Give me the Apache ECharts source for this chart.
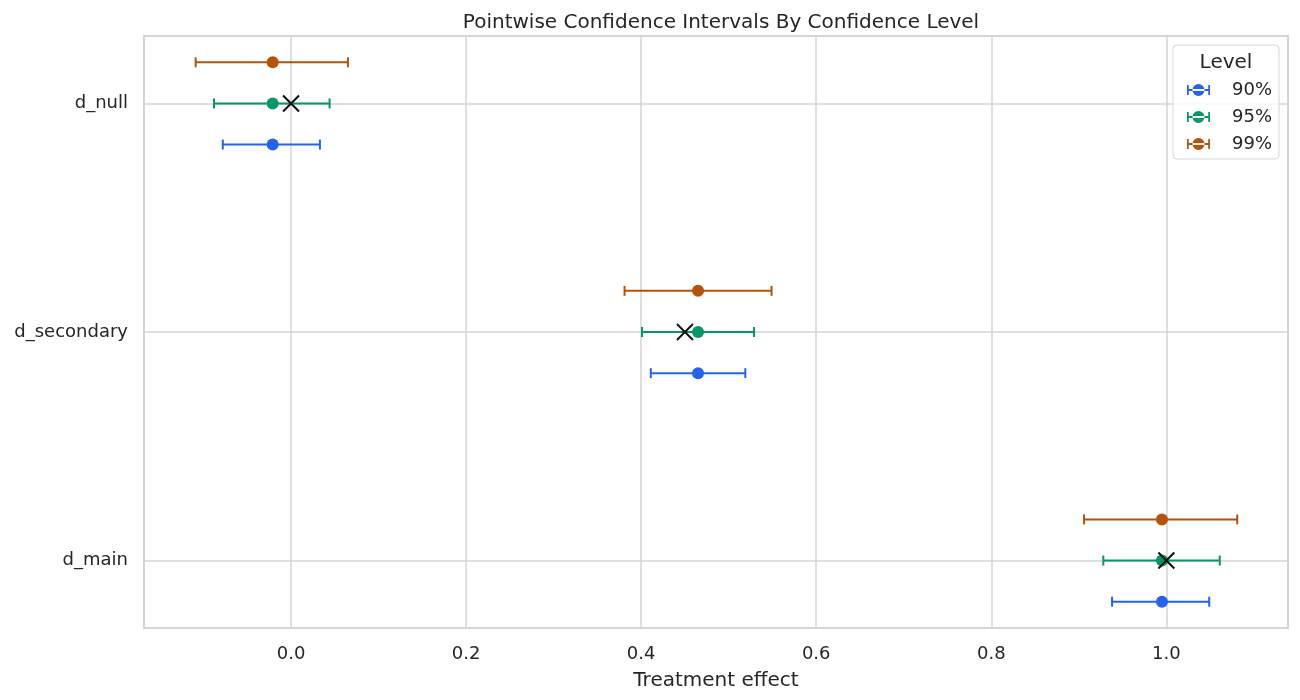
<!DOCTYPE html>
<html lang="en" style="height: 100%">
<head>
  <meta charset="utf-8">
</head>
<body style="height: 100%; margin: 0; background: #fff">
  <div id="container" style="width: 1300px; height: 700px"></div>
  <script type="text/javascript" src="https://fastly.jsdelivr.net/npm/echarts@6.0.0/dist/echarts.min.js"></script>
  <script type="text/javascript">
    // categories from bottom (0) to top (2)
    var categories = ['d_main', 'd_secondary', 'd_null'];
    var trueEffect = [1.0, 0.45, 0.0];
    var estimate = [0.995, 0.465, -0.021];
    var levels = ['90%', '95%', '99%'];
    var lower90 = [0.938, 0.411, -0.078];
    var upper90 = [1.049, 0.519, 0.033];
    var lower95 = [0.928, 0.401, -0.088];
    var upper95 = [1.061, 0.529, 0.044];
    var lower99 = [0.906, 0.381, -0.109];
    var upper99 = [1.081, 0.549, 0.065];

    var colors = ['#2563eb', '#059669', '#b45309'];
    var offsets = [-0.18, 0, 0.18];
    var lowers = [lower90, lower95, lower99];
    var uppers = [upper90, upper95, upper99];
    var font = 'DejaVu Sans';
    var textColor = '#262626';

    var dom = document.getElementById('container');
    var myChart = echarts.init(dom, null, { renderer: 'canvas' });

    function renderBar(params, api) {
      var y = api.value(2);
      var p0 = api.coord([api.value(0), y]);
      var p1 = api.coord([api.value(1), y]);
      var pm = api.coord([api.value(3), y]);
      var color = api.visual('color');
      var st = { stroke: color, lineWidth: 2 };
      return {
        type: 'group',
        children: [
          { type: 'line', shape: { x1: p0[0], y1: p0[1], x2: p1[0], y2: p1[1] }, style: st },
          { type: 'line', shape: { x1: p0[0], y1: p0[1] - 5, x2: p0[0], y2: p0[1] + 5 }, style: st },
          { type: 'line', shape: { x1: p1[0], y1: p1[1] - 5, x2: p1[0], y2: p1[1] + 5 }, style: st },
          { type: 'circle', shape: { cx: pm[0], cy: pm[1], r: 6 }, style: { fill: color } }
        ]
      };
    }

    function renderCross(params, api) {
      var p = api.coord([api.value(0), api.value(1)]);
      var st = { stroke: '#111111', lineWidth: 2 };
      var s = 8;
      return {
        type: 'group',
        children: [
          { type: 'line', shape: { x1: p[0] - s, y1: p[1] - s, x2: p[0] + s, y2: p[1] + s }, style: st },
          { type: 'line', shape: { x1: p[0] - s, y1: p[1] + s, x2: p[0] + s, y2: p[1] - s }, style: st }
        ]
      };
    }

    var series = levels.map(function (lvl, k) {
      return {
        name: lvl,
        type: 'custom',
        renderItem: renderBar,
        itemStyle: { color: colors[k] },
        encode: { x: [0, 1, 3], y: 2 },
        z: 2 + k,
        data: categories.map(function (c, i) {
          return [lowers[k][i], uppers[k][i], i + offsets[k], estimate[i]];
        })
      };
    });
    series.push({
      name: 'true',
      type: 'custom',
      renderItem: renderCross,
      encode: { x: 0, y: 1 },
      z: 10,
      data: categories.map(function (c, i) { return [trueEffect[i], i]; })
    });

    var legendIcon = 'path://M0,1.5 h1.6 v9 h-1.6 z M19.4,1.5 h1.6 v9 h-1.6 z M0,5.1 h21 v1.8 h-21 z M5,6 a5.5,5.5 0 1,0 11,0 a5.5,5.5 0 1,0 -11,0 z';

    var option = {
      animation: false,
      backgroundColor: '#ffffff',
      title: {
        text: 'Pointwise Confidence Intervals By Confidence Level',
        left: 716,
        top: 8,
        textAlign: 'center',
        textStyle: { fontFamily: font, fontSize: 20, fontWeight: 'normal', color: textColor }
      },
      graphic: [{
        type: 'text',
        x: 1226,
        y: 53,
        z: 100,
        style: { text: 'Level', fontFamily: font, fontSize: 20, fill: textColor, textAlign: 'center' }
      }],
      legend: {
        data: levels,
        orient: 'vertical',
        right: 21,
        top: 45,
        padding: [36, 7, 6, 14],
        itemGap: 9,
        itemWidth: 23,
        itemHeight: 14,
        icon: legendIcon,
        backgroundColor: 'rgba(255,255,255,0.85)',
        borderColor: '#d6d6d6',
        borderWidth: 1,
        borderRadius: 4,
        textStyle: { fontFamily: font, fontSize: 18, color: textColor, padding: [0, 0, 0, 17] }
      },
      grid: {
        left: 144,
        right: 12,
        top: 36,
        bottom: 72,
        show: true,
        borderColor: '#cccccc',
        borderWidth: 1.5
      },
      xAxis: {
        type: 'value',
        min: -0.168,
        max: 1.139,
        splitNumber: 6,
        minInterval: 0.2,
        maxInterval: 0.2,
        name: 'Treatment effect',
        nameLocation: 'middle',
        nameGap: 43,
        nameTextStyle: { fontFamily: font, fontSize: 20, color: textColor },
        axisLine: { show: false },
        axisTick: { show: false },
        axisLabel: {
          fontFamily: font, fontSize: 18, color: textColor, margin: 17,
          showMinLabel: false, showMaxLabel: false,
          formatter: function (v) { return v.toFixed(1); }
        },
        splitLine: { lineStyle: { color: '#d4d4d4', width: 1.5 } }
      },
      yAxis: {
        type: 'value',
        min: -0.295,
        max: 2.295,
        minInterval: 1,
        maxInterval: 1,
        axisLine: { show: false },
        axisTick: { show: false },
        axisLabel: {
          fontFamily: font, fontSize: 18, color: textColor, margin: 16,
          showMinLabel: false, showMaxLabel: false,
          formatter: function (v) {
            var i = Math.round(v);
            return Math.abs(v - i) < 1e-6 && categories[i] ? categories[i] : '';
          }
        },
        splitLine: { lineStyle: { color: '#d4d4d4', width: 1.5 } }
      },
      series: series
    };

    myChart.setOption(option);
    window.addEventListener('resize', myChart.resize);
  </script>
</body>
</html>
